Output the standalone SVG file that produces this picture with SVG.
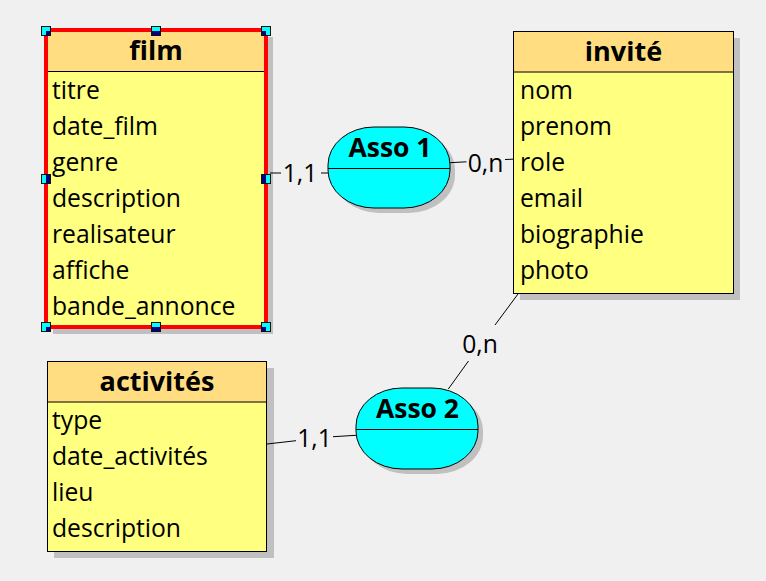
<svg xmlns="http://www.w3.org/2000/svg" width="766" height="581" viewBox="0 0 766 581">
<style>
.bg{fill:#f0f0f0}
.shadow{fill:#c0c0c0}
.head{fill:#ffdd80}
.body{fill:#ffff80}
.frame{fill:none;stroke:#000;stroke-width:1}
.sel{fill:none;stroke:#ff0000;stroke-width:4}
.sep{stroke:#000;stroke-width:1}
.title{font-family:"Open Sans","DejaVu Sans",sans-serif;font-weight:bold;font-size:27px;fill:#000;text-anchor:middle}
.attr{font-family:"Open Sans","DejaVu Sans",sans-serif;font-size:24.7px;fill:#000}
.asso{fill:#00ffff;stroke:#000;stroke-width:1}
.atitle{font-family:"Open Sans","DejaVu Sans",sans-serif;font-weight:bold;font-size:26.5px;fill:#000;text-anchor:middle}
.link{stroke:#000;stroke-width:1;fill:none}
.card{font-family:"Open Sans","DejaVu Sans",sans-serif;font-size:24.7px;fill:#000;text-anchor:middle}
.hnd{fill:#00ffff;stroke:#111;stroke-width:1}
.hin{fill:#000080}
</style>
<rect class="bg" x="0" y="0" width="766" height="581"/>

<g id="film">
  <rect class="shadow" x="53" y="37" width="220" height="297"/>
  <rect class="body" x="46" y="30" width="220" height="297"/>
  <rect class="head" x="46" y="30" width="220" height="41"/>
  <line class="sep" x1="46" y1="71.5" x2="266" y2="71.5"/>
  <text class="title" x="156" y="60">film</text>
  <text class="attr" x="52" y="99">titre</text>
  <text class="attr" x="52" y="135">date_film</text>
  <text class="attr" x="52" y="171">genre</text>
  <text class="attr" x="52" y="207">description</text>
  <text class="attr" x="52" y="243">realisateur</text>
  <text class="attr" x="52" y="279">affiche</text>
  <text class="attr" x="52" y="315">bande_annonce</text>
  <rect class="sel" x="46" y="30" width="220" height="297"/>
  <g id="film-handles">
    <rect class="hnd" x="41.5" y="26.5" width="9" height="9"/><rect class="hin" x="46" y="31" width="4" height="4"/>
    <rect class="hnd" x="151.5" y="26.5" width="9" height="9"/><rect class="hin" x="152" y="31" width="8" height="4"/>
    <rect class="hnd" x="261.5" y="26.5" width="9" height="9"/><rect class="hin" x="262" y="31" width="4" height="4"/>
    <rect class="hnd" x="41.5" y="174.5" width="9" height="9"/><rect class="hin" x="46" y="175" width="4" height="8"/>
    <rect class="hnd" x="261.5" y="174.5" width="9" height="9"/><rect class="hin" x="262" y="175" width="4" height="8"/>
    <rect class="hnd" x="41.5" y="322.5" width="9" height="9"/><rect class="hin" x="46" y="327" width="4" height="4"/>
    <rect class="hnd" x="151.5" y="322.5" width="9" height="9"/><rect class="hin" x="152" y="327" width="8" height="4"/>
    <rect class="hnd" x="261.5" y="322.5" width="9" height="9"/><rect class="hin" x="262" y="327" width="4" height="4"/>
  </g>
</g>

<g id="invite">
  <rect class="shadow" x="520" y="38" width="220" height="262"/>
  <rect class="body" x="513.5" y="31.5" width="220" height="262"/>
  <rect class="head" x="513.5" y="31.5" width="220" height="41"/>
  <line class="sep" x1="513.5" y1="72" x2="733.5" y2="72"/>
  <rect class="frame" x="513.5" y="31.5" width="220" height="262"/>
  <text class="title" x="623.5" y="61">invité</text>
  <text class="attr" x="520" y="99">nom</text>
  <text class="attr" x="520" y="135">prenom</text>
  <text class="attr" x="520" y="171">role</text>
  <text class="attr" x="520" y="207">email</text>
  <text class="attr" x="520" y="243">biographie</text>
  <text class="attr" x="520" y="279">photo</text>
</g>

<g id="activites">
  <rect class="shadow" x="54" y="368" width="220" height="190"/>
  <rect class="body" x="47.5" y="361.5" width="219" height="190"/>
  <rect class="head" x="47.5" y="361.5" width="219" height="41"/>
  <line class="sep" x1="47.5" y1="402" x2="266.5" y2="402"/>
  <rect class="frame" x="47.5" y="361.5" width="219" height="190"/>
  <text class="title" x="157" y="391">activités</text>
  <text class="attr" x="52" y="429">type</text>
  <text class="attr" x="52" y="465">date_activités</text>
  <text class="attr" x="52" y="501">lieu</text>
  <text class="attr" x="52" y="537">description</text>
</g>

<g id="asso1">
  <rect class="shadow" x="333" y="132" width="122" height="81" rx="46" ry="38"/>
  <rect class="asso" x="328" y="127" width="122" height="81" rx="46" ry="38"/>
  <line class="sep" x1="328" y1="168.5" x2="450" y2="168.5"/>
  <text class="atitle" x="390" y="157">Asso 1</text>
</g>

<g id="asso2">
  <rect class="shadow" x="361" y="393" width="122" height="81" rx="46" ry="38"/>
  <rect class="asso" x="356" y="388" width="122" height="81" rx="46" ry="38"/>
  <line class="sep" x1="356" y1="429.5" x2="478" y2="429.5"/>
  <text class="atitle" x="417.5" y="418">Asso 2</text>
</g>

<g id="connectors">
  <line class="link" x1="270" y1="173" x2="281" y2="173"/>
  <line class="link" x1="321" y1="173" x2="328" y2="173"/>
  <text class="card" x="300" y="181.5">1,1</text>

  <line class="link" x1="450" y1="162.7" x2="466.5" y2="161.8"/>
  <line class="link" x1="505" y1="159.5" x2="513" y2="159.2"/>
  <text class="card" x="485.5" y="171.7">0,n</text>

  <line class="link" x1="267" y1="444" x2="296" y2="440.7"/>
  <line class="link" x1="333" y1="436.7" x2="356" y2="435.3"/>
  <text class="card" x="314.5" y="446.7">1,1</text>

  <line class="link" x1="518" y1="294" x2="495" y2="325"/>
  <line class="link" x1="468.5" y1="361" x2="448.3" y2="389"/>
  <text class="card" x="480" y="352.7">0,n</text>
</g>
</svg>
